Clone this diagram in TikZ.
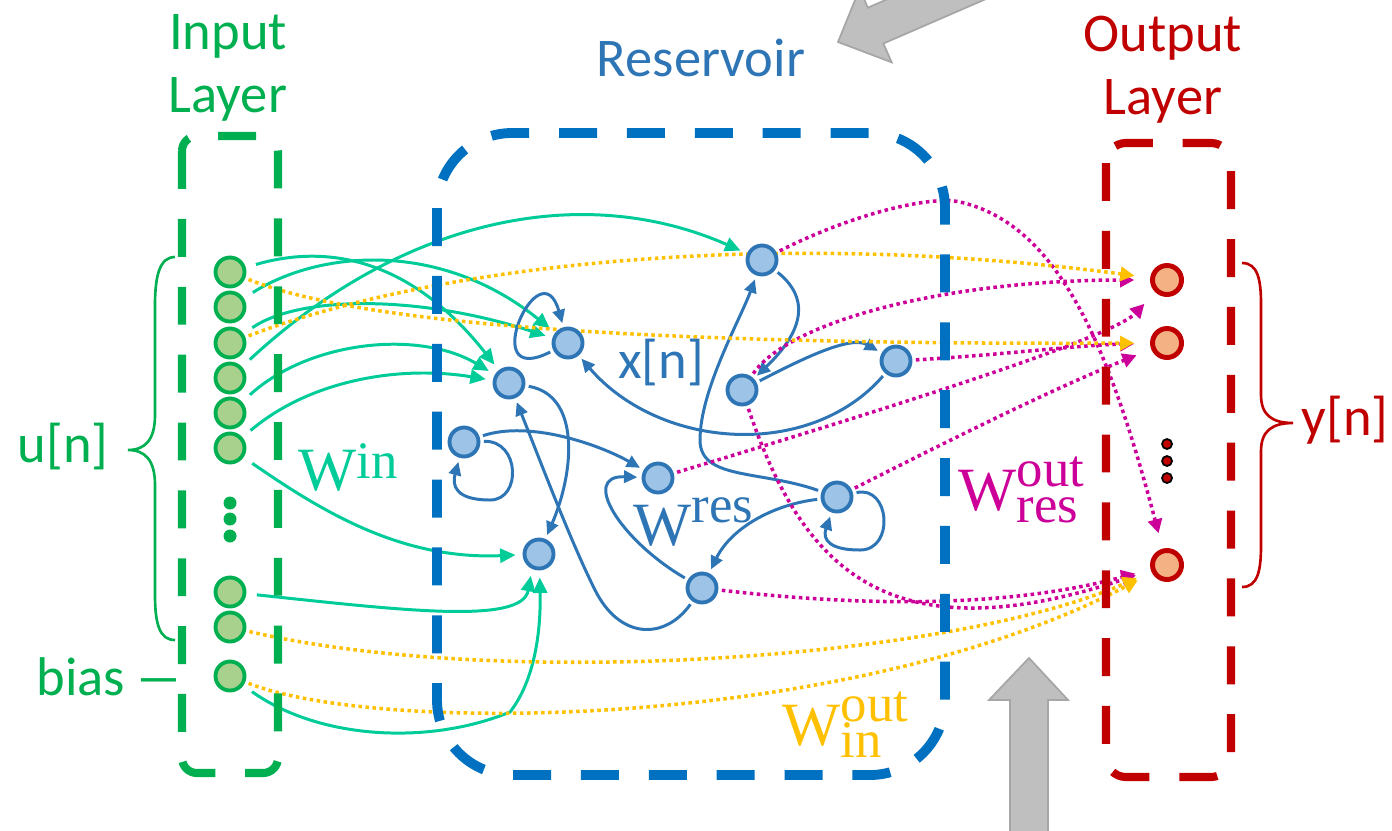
\documentclass[tikz,border=0pt]{standalone}
\usepackage{fontspec}
\setmainfont{Carlito}
\newfontfamily\wfont{Liberation Serif}
\usetikzlibrary{arrows.meta, backgrounds}

\definecolor{ingreen}{HTML}{00B050}
\definecolor{infill}{HTML}{A9D18E}
\definecolor{wingreen}{HTML}{00CC99}
\definecolor{resblue}{HTML}{0070C0}
\definecolor{resedge}{HTML}{2E75B6}
\definecolor{resfill}{HTML}{9DC3E6}
\definecolor{outred}{HTML}{C00000}
\definecolor{outfill}{HTML}{F4B183}
\definecolor{woutres}{HTML}{CC0099}
\definecolor{woutin}{HTML}{FFC000}
\definecolor{arrgray}{HTML}{BFBFBF}
\definecolor{arrline}{HTML}{A6A6A6}

\newcommand{\labsize}{\fontsize{15.5pt}{18pt}\selectfont}
\newcommand{\wbig}{\wfont\fontsize{17.5pt}{17.5pt}\selectfont}
\newcommand{\wsml}{\wfont\fontsize{15pt}{15pt}\selectfont}

\tikzset{
  ni/.style = {circle, draw=ingreen, fill=infill, minimum size=0.29cm,
    inner sep=0pt, line width=1.1pt},
  nr/.style = {circle, draw=resedge, fill=resfill, minimum size=0.29cm,
    inner sep=0pt, line width=1.1pt},
  nout/.style = {circle, draw=outred, fill=outfill, minimum size=0.29cm,
    inner sep=0pt, line width=1.4pt},
  bdash/.style = {dash pattern=on 10.8pt off 8.5pt},
  bin/.style = {bdash, draw=ingreen, line width=2.3pt, rounded corners=0.15cm},
  bres/.style = {bdash, draw=resblue, line width=2.8pt, rounded corners=0.75cm},
  bout/.style = {bdash, draw=outred, line width=2.3pt, rounded corners=0.2cm},
  lab/.style = {font=\labsize, inner sep=0pt},
  wlab/.style = {anchor=base west, inner sep=0pt},
  ein/.style = {draw=wingreen, line width=0.85pt,
    -{Triangle[length=4.4pt, width=4pt]}, shorten <=3pt, shorten >=2pt},
  eres/.style = {draw=resedge, line width=0.85pt,
    -{Triangle[length=3.8pt, width=3.5pt]}, shorten <=1pt, shorten >=1.2pt},
  eout/.style = {line width=1pt, dash pattern=on 1pt off 1pt,
    -{Triangle[length=4pt, width=4pt]}, shorten <=1pt, shorten >=4.5pt},
  eor/.style = {eout, draw=woutres},
  eoi/.style = {eout, draw=woutin},
  bigarr/.style = {fill=arrgray, draw=arrline, line width=0.5pt}
}

\begin{document}
\begin{tikzpicture}[x=0.01cm, y=-0.01cm]
  \clip (0,0) rectangle (1392,830);

  % input neurons
  \foreach \n/\y in {1/272, 2/307, 3/343, 4/378, 5/413, 6/448, 7/592, 8/627}
    \node[ni] (I\n) at (230,\y) {};
  \node[ni] (B) at (230,676) {};
  \foreach \y in {503, 519, 536}
    \fill[ingreen] (230,\y) circle (0.065cm);

  % reservoir neurons
  \node[nr] (R1) at (762,260) {};
  \node[nr] (R2) at (568,343) {};
  \node[nr] (R3) at (509,383) {};
  \node[nr] (R4) at (464,442) {};
  \node[nr] (R5) at (658,478) {};
  \node[nr] (R6) at (539,554) {};
  \node[nr] (R7) at (702,588) {};
  \node[nr] (R8) at (837,497) {};
  \node[nr] (R9) at (742,390) {};
  \node[nr] (R10) at (896,361) {};

  % output neurons
  \foreach \n/\y in {1/280, 2/343, 3/565}
    \node[nout] (O\n) at (1167,\y) {};
  \foreach \y in {444, 461, 478}
    \filldraw[fill=outred, draw=black, line width=0.5pt] (1167,\y) circle (0.05cm);

  % layer boxes
  \draw[bin] (182,136) rectangle (278,773);
  \draw[bres] (437,133) rectangle (945,775);
  \draw[bout] (1106,143) rectangle (1231,777);

  % titles and labels
  \node[lab, text=ingreen, align=center] (intitle) at (228,68) {Input\\Layer};
  \node[lab, text=resedge] (restitle) at (701,58) {Reservoir};
  \node[lab, text=outred, align=center] (outtitle) at (1163,70) {Output\\Layer};
  \node[lab, text=ingreen] (ulab) at (63,447) {u[n]};
  \node[lab, text=outred] (ylab) at (1345,420) {y[n]};
  \node[lab, text=resedge] (xlab) at (661,363) {x[n]};
  \node[lab, text=ingreen, anchor=base east] (biaslab) at (184,695)
    {bias\,\scalebox{1.8}[1]{–}};

  \node[wlab, text=wingreen] (win) at (298,490)
    {{\wbig W}\raisebox{3.4pt}{\wsml in}};
  \node[wlab, text=resedge] (wres) at (633,545)
    {{\wbig W}\raisebox{6.3pt}{\wsml res}};
  \node[wlab, text=woutres] (woutr) at (958,510)
    {{\wbig W}\rlap{\raisebox{6.6pt}{\wsml out}}\raisebox{-3.6pt}{\wsml res}};
  \node[wlab, text=woutin] (wouti) at (782,745)
    {{\wbig W}\rlap{\raisebox{6.6pt}{\wsml out}}\raisebox{-3.6pt}{\wsml in}};

  % braces
  \draw[ingreen, line width=0.75pt] (175,257) .. controls (160,257) and (155,275) .. (155,305)
    -- (155,415) .. controls (155,440) and (145,450) .. (128,450)
    .. controls (145,450) and (155,460) .. (155,485) -- (155,595)
    .. controls (155,625) and (160,640) .. (175,640);
  \draw[outred, line width=0.75pt] (1242,263) .. controls (1258,263) and (1261,280) .. (1261,305)
    -- (1261,395) .. controls (1261,415) and (1272,423) .. (1293,423)
    .. controls (1272,423) and (1261,431) .. (1261,451) -- (1261,545)
    .. controls (1261,570) and (1258,587) .. (1242,587);

  % big grey arrows
  \draw[bigarr] (838,42) -- (891.6,62.3) -- (883.4,43.5) -- (1066.8,-36.1)
    -- (1051.2,-71.9) -- (867.8,7.7) -- (859.6,-11.1) -- cycle;
  \draw[bigarr] (1029,658) -- (1068,700) -- (1048,700) -- (1048,850)
    -- (1010,850) -- (1010,700) -- (989,700) -- cycle;

  \begin{scope}[on background layer]
    % input weights
    \draw[ein] (I1) .. controls (340,240) and (420,270) .. (R3);
    \draw[ein] (I2) .. controls (320,250) and (440,240) .. (R2);
    \draw[ein] (I3) .. controls (300,295) and (420,295) .. (R2);
    \draw[ein] (I4) .. controls (400,220) and (580,180) .. (R1);
    \draw[ein] (I5) .. controls (310,340) and (420,330) .. (R3);
    \draw[ein] (I6) .. controls (310,380) and (400,365) .. (R3);
    \draw[ein] (I6) .. controls (320,510) and (400,560) .. (R6);
    \draw[ein] (I7) .. controls (400,610) and (522,625) .. (R6.245);
    \draw[ein] (B) .. controls (320,740) and (430,745) .. (510,712)
      .. controls (535,680) and (541,630) .. (R6.272);

    % reservoir weights
    \draw[eres] (R1) .. controls (800,290) and (815,320) .. (R9);
    \draw[eres] (R9) .. controls (800,360) and (850,335) .. (R10);
    \draw[eres] (R10) .. controls (810,460) and (660,450) .. (R2);
    \draw[eres] (R2) .. controls (475,390) and (540,245) .. (R2);
    \draw[eres] (R3) .. controls (580,395) and (575,470) .. (R6);
    \draw[eres] (R7) .. controls (665,640) and (620,640) .. (595,590)
      .. controls (570,540) and (540,460) .. (R3);
    \draw[eres] (R4) .. controls (530,420) and (600,445) .. (R5);
    \draw[eres] (R4) .. controls (520,440) and (522,500) .. (490,500)
      .. controls (455,500) and (452,485) .. (R4);
    \draw[eres] (R7) .. controls (620,540) and (580,475) .. (R5);
    \draw[eres] (R8) .. controls (770,505) and (730,530) .. (R7);
    \draw[eres] (R8) .. controls (890,485) and (895,550) .. (860,550)
      .. controls (830,550) and (822,540) .. (R8);
    \draw[eres] (R8) .. controls (760,470) and (700,480) .. (700,440)
      .. controls (700,390) and (740,320) .. (R1);

    % readout from reservoir
    \draw[eor] (R1) .. controls (850,215) and (930,195) .. (960,202)
      .. controls (1060,225) and (1110,350) .. (O3);
    \draw[eor] (R9) .. controls (790,320) and (950,280) .. (O1);
    \draw[eor] (R9) .. controls (800,560) and (880,660) .. (O3);
    \draw[eor] (R5) .. controls (850,420) and (1110,340) .. (O1);
    \draw[eor] (R10) .. controls (1000,355) and (1080,345) .. (O2);
    \draw[eor] (R8) .. controls (950,440) and (1050,390) .. (O2);
    \draw[eor] (R7) .. controls (850,605) and (1000,610) .. (O3);

    % readout from input
    \draw[eoi] (I1) .. controls (350,320) and (600,345) .. (O2);
    \draw[eoi] (I3) .. controls (420,270) and (750,225) .. (O1);
    \draw[eoi] (I8) .. controls (500,690) and (950,660) .. (O3);
    \draw[eoi] (B) .. controls (380,735) and (850,730) .. (O3);
  \end{scope}
\end{tikzpicture}
\end{document}
